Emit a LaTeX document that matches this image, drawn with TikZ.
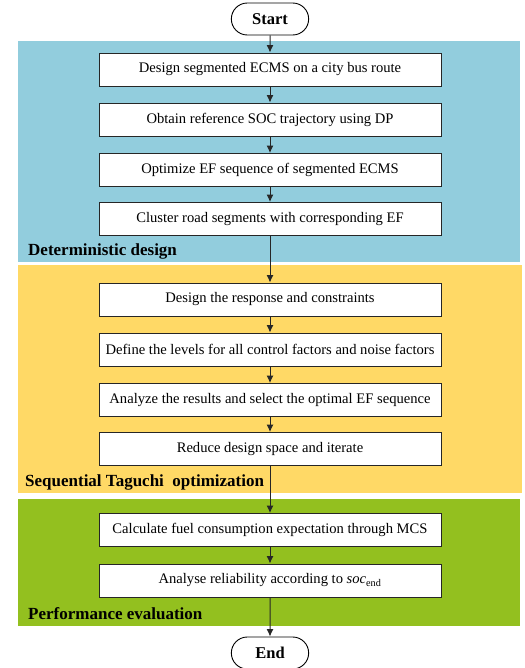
\documentclass[tikz,border=0pt]{standalone}
\usepackage{fontspec}
\setmainfont{Liberation Serif}
\usetikzlibrary{arrows.meta,shapes.misc}
\definecolor{detblue}{RGB}{146,205,221}
\definecolor{tagyellow}{RGB}{255,217,102}
\definecolor{evalgreen}{RGB}{147,192,31}
\tikzset{
  procbox/.style={draw=black!85, fill=white, line width=0.9pt, minimum width=342pt, minimum height=33pt, inner sep=0pt, font=\fontsize{14.6}{16}\selectfont},
  terminal/.style={rounded rectangle, draw=black, fill=white, line width=0.9pt, minimum width=84pt, minimum height=32pt, font=\bfseries\fontsize{16.5}{18}\selectfont},
  phaselabel/.style={anchor=west, inner sep=0pt, font=\bfseries\fontsize{17}{19}\selectfont},
  flowarrow/.style={-{Latex[length=7.5pt,width=7pt]}, line width=1pt, draw=black!85}
}
\begin{document}
\begin{tikzpicture}[x=1pt,y=-1pt]
\useasboundingbox (0,0) rectangle (524,668);
% phase backgrounds
\fill[detblue] (18,41) rectangle (520,262);
\fill[tagyellow] (18,265) rectangle (522,493);
\fill[evalgreen] (18,499) rectangle (520,626);
\node[phaselabel] (lbldet) at (28,251) {Deterministic design};
\node[phaselabel] (lbltag) at (25,482) {Sequential Taguchi\ \ optimization};
\node[phaselabel] (lbleval) at (28,614) {Performance evaluation};
% flow
\node[terminal] (start) at (270,19) {Start};
\node[procbox] (d1) at (270,69.5) {Design segmented ECMS on a city bus route};
\node[procbox] (d2) at (270,119.5) {Obtain reference SOC trajectory using DP};
\node[procbox] (d3) at (270,170) {Optimize EF sequence of segmented ECMS};
\node[procbox] (d4) at (270,219) {Cluster road segments with corresponding EF};
\node[procbox] (t1) at (270,299.5) {Design the response and constraints};
\node[procbox] (t2) at (270,349.5) {Define the levels for all control factors and noise factors};
\node[procbox] (t3) at (270,400) {Analyze the results and select the optimal EF sequence};
\node[procbox] (t4) at (270,449) {Reduce design space and iterate};
\node[procbox] (e1) at (270,530) {Calculate fuel consumption expectation through MCS};
\node[procbox] (e2) at (270,580.5) {Analyse reliability according to \textit{soc}\textsubscript{end}};
\node[terminal] (end) at (270,653) {End};
\foreach \a/\b in {start/d1,d1/d2,d2/d3,d3/d4,d4/t1,t1/t2,t2/t3,t3/t4,t4/e1,e1/e2,e2/end}
  \draw[flowarrow] (\a) -- (\b);
\end{tikzpicture}
\end{document}
